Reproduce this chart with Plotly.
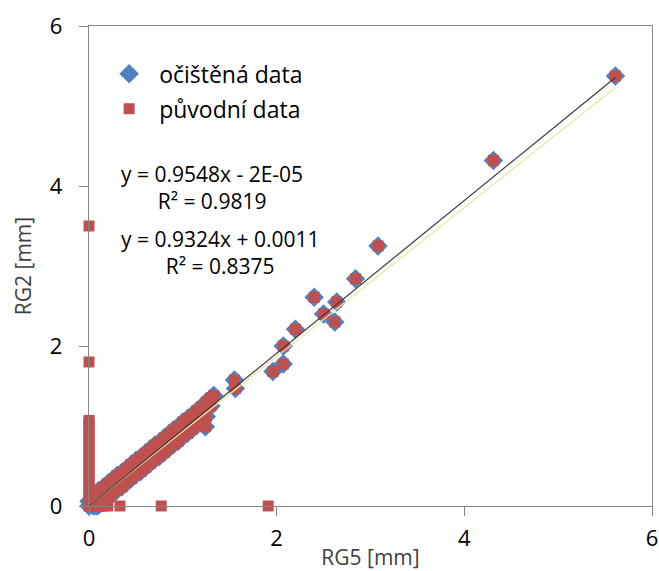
import plotly.graph_objects as go

# Cleaned data (očištěná data): RG5 vs RG2 [mm]
clean_x = [0.00, 0.02, 0.04, 0.00, 0.08, 0.12,
           0.05, 0.05, 0.05, 0.10, 0.10, 0.10, 0.15, 0.15, 0.15, 0.20, 0.20, 0.20,
           0.25, 0.25, 0.25, 0.30, 0.30, 0.30, 0.35, 0.35, 0.35, 0.40, 0.40, 0.40,
           0.45, 0.45, 0.45, 0.50, 0.50, 0.50, 0.55, 0.55, 0.55, 0.60, 0.60, 0.60,
           0.65, 0.65, 0.65, 0.70, 0.70, 0.70, 0.75, 0.75, 0.75, 0.80, 0.80, 0.80,
           0.85, 0.85, 0.85, 0.90, 0.90, 0.90, 0.95, 0.95, 0.95, 1.00, 1.00, 1.00,
           1.05, 1.05, 1.05, 1.10, 1.10, 1.10, 1.15, 1.15, 1.15, 1.20, 1.20, 1.20,
           1.25, 1.25, 1.25, 1.30, 1.30, 1.24, 1.33,
           1.55, 1.56, 1.96, 2.07, 2.07, 2.20, 2.40, 2.50, 2.62, 2.64, 2.84, 3.08, 4.31, 5.61]
clean_y = [0.00, 0.02, -0.03, 0.06, 0.00, 0.03,
           0.00, 0.05, 0.14, 0.01, 0.10, 0.19, 0.05, 0.14, 0.23, 0.10, 0.19, 0.28,
           0.15, 0.24, 0.33, 0.20, 0.29, 0.38, 0.24, 0.33, 0.42, 0.29, 0.38, 0.47,
           0.34, 0.43, 0.52, 0.39, 0.48, 0.57, 0.43, 0.52, 0.61, 0.48, 0.57, 0.66,
           0.53, 0.62, 0.71, 0.58, 0.67, 0.76, 0.62, 0.71, 0.80, 0.67, 0.76, 0.85,
           0.72, 0.81, 0.90, 0.77, 0.86, 0.95, 0.81, 0.90, 0.99, 0.87, 0.96, 1.05,
           0.91, 1.00, 1.09, 0.96, 1.05, 1.14, 1.01, 1.10, 1.19, 1.06, 1.15, 1.24,
           1.12, 1.21, 1.30, 1.25, 1.35, 0.99, 1.38,
           1.575, 1.47, 1.68, 2.00, 1.775, 2.21, 2.61, 2.40, 2.30, 2.55, 2.84, 3.25, 4.32, 5.375]

# Extra points only in the original data (původní data)
extra_x = [0.00] * 22 + [0.00, 0.00, 0.05, 0.10, 0.15, 0.20, 0.10, 0.15, 0.33, 0.77, 1.91]
extra_y = [0.05, 0.10, 0.15, 0.20, 0.25, 0.30, 0.35, 0.40, 0.45, 0.50, 0.55, 0.60, 0.65, 0.70,
           0.75, 0.80, 0.85, 0.90, 0.95, 1.00, 1.05, 1.07] + [1.80, 3.50, 0.00, 0.00, 0.00, 0.00,
                                                              0.05, 0.08, 0.00, 0.00, 0.00]
orig_x = clean_x + extra_x
orig_y = clean_y + extra_y

# Trend lines (Excel linear fits)
fit1 = (0.9548, -2e-05)   # cleaned
fit2 = (0.9324, 0.0011)   # original
fit_x = [0.0, 5.61]

eq_texts = ["y = 0.9548x - 2E-05<br>R² = 0.9819", "y = 0.9324x + 0.0011<br>R² = 0.8375"]

BLUE = "#4F81BD"
RED = "#C0504D"
AX = "#868686"
FONT = "Open Sans"

fig = go.Figure()
fig.add_trace(go.Scatter(x=clean_x, y=clean_y, mode="markers", name="očištěná data",
                         marker=dict(symbol="diamond", size=15, color=BLUE),
                         cliponaxis=False, legendgroup="a"))
fig.add_trace(go.Scatter(x=orig_x, y=orig_y, mode="markers", name="původní data",
                         marker=dict(symbol="square", size=11, color=RED),
                         cliponaxis=False, legendgroup="b"))
fig.add_trace(go.Scatter(x=fit_x, y=[fit2[0] * v + fit2[1] for v in fit_x], mode="lines",
                         line=dict(color="#EDE6A8", width=1.3), showlegend=False, hoverinfo="skip"))
fig.add_trace(go.Scatter(x=fit_x, y=[fit1[0] * v + fit1[1] for v in fit_x], mode="lines",
                         line=dict(color="#3A3A3A", width=1.2), showlegend=False, hoverinfo="skip"))

fig.add_annotation(x=0.219, y=0.664, xref="paper", yref="paper", text=eq_texts[0], showarrow=False,
                   xanchor="center", yanchor="middle",
                   align="center", font=dict(size=21, color="#000000", family=FONT))
fig.add_annotation(x=0.233, y=0.528, xref="paper", yref="paper", text=eq_texts[1], showarrow=False,
                   xanchor="center", yanchor="middle",
                   align="center", font=dict(size=21, color="#000000", family=FONT))

axis_common = dict(range=[0, 6], dtick=2, showline=True, linecolor=AX, linewidth=1.3, mirror=True,
                   ticks="outside", ticklen=9, tickcolor=AX, tickwidth=1.3, showgrid=False,
                   zeroline=False, automargin=False,
                   tickfont=dict(size=22, color="#000000", family=FONT))
fig.update_xaxes(**axis_common, ticklabelstandoff=3,
                 title=dict(text="RG5 [mm]", font=dict(size=21, color="#404040", family=FONT), standoff=0))
fig.update_yaxes(**axis_common, ticklabelstandoff=12,
                 title=dict(text="RG2 [mm]", font=dict(size=21, color="#404040", family=FONT), standoff=12))

fig.update_layout(width=659, height=571, margin=dict(l=89, r=7, t=26, b=65),
                  paper_bgcolor="white", plot_bgcolor="white",
                  font=dict(family=FONT, size=21, color="#000000"),
                  legend=dict(x=0.018, y=0.945, xanchor="left", yanchor="top", bgcolor="rgba(0,0,0,0)",
                              font=dict(size=23, family=FONT, color="#000000"),
                              tracegroupgap=2, itemsizing="trace", itemwidth=50))

fig.write_html("out.html")
